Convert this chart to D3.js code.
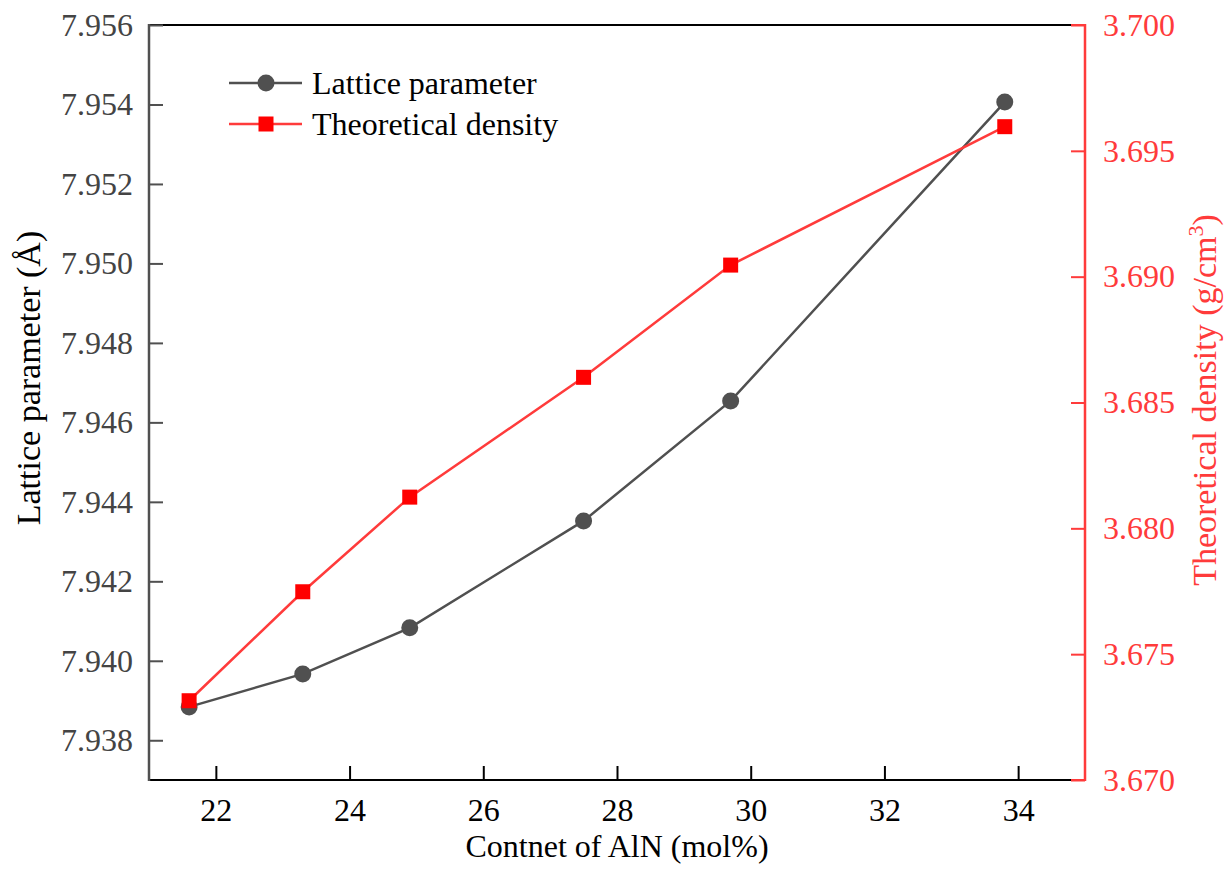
<!DOCTYPE html>
<html><head><meta charset="utf-8">
<script src="https://cdn.jsdelivr.net/npm/d3@7"></script>
<style>body{margin:0;background:#fff}svg{display:block}text{font-family:"Liberation Serif","Times New Roman",serif}</style>
</head><body><svg id="c" width="1228" height="877"></svg>
<script>
const aln = [21.6, 23.3, 24.9, 27.5, 29.7, 33.8];
const lattice = [7.93884, 7.93967, 7.94083, 7.94352, 7.94654, 7.95406];
const density = [3.67315, 3.67748, 3.68124, 3.68600, 3.69046, 3.69596];
const xTicks = [22, 24, 26, 28, 30, 32, 34];
const yLeftTicks = [7.938, 7.940, 7.942, 7.944, 7.946, 7.948, 7.950, 7.952, 7.954, 7.956];
const yRightTicks = [3.670, 3.675, 3.680, 3.685, 3.690, 3.695, 3.700];
const seriesNames = ["Lattice parameter", "Theoretical density"];

const L = 149, R = 1085, T = 25, B = 780;
const gray = "#505050", red = "#ff3b3b", redFill = "#ff0000";
const svg = d3.select("#c");
const x = d3.scaleLinear().domain([21, 35]).range([L, R]);
const yl = d3.scaleLinear().domain([7.937, 7.956]).range([B, T]);
const yr = d3.scaleLinear().domain([3.670, 3.700]).range([B, T]);

// top border
svg.append("line").attr("x1", L).attr("x2", R).attr("y1", T).attr("y2", T).attr("stroke", "#000").attr("stroke-width", 2);

// bottom axis
const gx = svg.append("g").attr("transform", `translate(0,${B})`);
gx.call(d3.axisBottom(x).tickValues(d3.range(21, 35.01, 1)).tickSize(-7).tickFormat(""));
gx.call(d3.axisBottom(x).tickValues(xTicks).tickSize(-14).tickFormat(d3.format("d")));
gx.selectAll(".domain").remove();
gx.selectAll("line").attr("stroke", "#000").attr("stroke-width", 2);
gx.selectAll("text").attr("font-size", 32).attr("fill", "#000").attr("y", 41).attr("dy", 0).attr("font-family", "Liberation Serif");
svg.append("line").attr("x1", L).attr("x2", R).attr("y1", B).attr("y2", B).attr("stroke", "#000").attr("stroke-width", 2);

// left axis
const gl = svg.append("g").attr("transform", `translate(${L},0)`);
gl.call(d3.axisLeft(yl).tickValues(d3.range(7.937, 7.9561, 0.001)).tickSize(-7).tickFormat(""));
gl.call(d3.axisLeft(yl).tickValues(yLeftTicks).tickSize(-14).tickPadding(16).tickFormat(d3.format(".3f")));
gl.selectAll(".domain").remove();
gl.selectAll("line").attr("stroke", gray).attr("stroke-width", 2);
gl.selectAll("text").attr("font-size", 32).attr("fill", "#444").attr("font-family", "Liberation Serif");
svg.append("line").attr("x1", L).attr("x2", L).attr("y1", T - 1).attr("y2", B + 1).attr("stroke", gray).attr("stroke-width", 2.5);

// right axis
const gr = svg.append("g").attr("transform", `translate(${R},0)`);
gr.call(d3.axisRight(yr).tickValues(d3.range(3.670, 3.7001, 0.0025)).tickSize(-7).tickFormat(""));
gr.call(d3.axisRight(yr).tickValues(yRightTicks).tickSize(-14).tickPadding(18).tickFormat(d3.format(".3f")));
gr.selectAll(".domain").remove();
gr.selectAll("line").attr("stroke", red).attr("stroke-width", 2);
gr.selectAll("text").attr("font-size", 32).attr("fill", red).attr("font-family", "Liberation Serif");
svg.append("line").attr("x1", R - 14).attr("x2", R).attr("y1", T).attr("y2", T).attr("stroke", red).attr("stroke-width", 2);
svg.append("line").attr("x1", R - 14).attr("x2", R).attr("y1", B).attr("y2", B).attr("stroke", red).attr("stroke-width", 2);
svg.append("line").attr("x1", R).attr("x2", R).attr("y1", T - 1).attr("y2", B + 1).attr("stroke", red).attr("stroke-width", 2.5);

// data
const d1 = aln.map((v, i) => [v, lattice[i]]);
const d2 = aln.map((v, i) => [v, density[i]]);
svg.append("path").datum(d1).attr("fill", "none").attr("stroke", gray).attr("stroke-width", 2.5)
  .attr("d", d3.line().x(d => x(d[0])).y(d => yl(d[1])));
svg.append("path").datum(d2).attr("fill", "none").attr("stroke", red).attr("stroke-width", 2.5)
  .attr("d", d3.line().x(d => x(d[0])).y(d => yr(d[1])));
svg.selectAll("circle.p").data(d1).enter().append("circle").attr("class", "p")
  .attr("cx", d => x(d[0])).attr("cy", d => yl(d[1])).attr("r", 8.5).attr("fill", gray);
svg.selectAll("rect.p").data(d2).enter().append("rect").attr("class", "p")
  .attr("x", d => x(d[0]) - 7.5).attr("y", d => yr(d[1]) - 7.5).attr("width", 15).attr("height", 15).attr("fill", redFill);

// legend
const lg = svg.append("g");
[0, 1].forEach(i => {
  const yy = 83 + i * 41;
  const col = i === 0 ? gray : red;
  lg.append("line").attr("x1", 229).attr("x2", 302).attr("y1", yy).attr("y2", yy).attr("stroke", col).attr("stroke-width", 2.5);
  if (i === 0) lg.append("circle").attr("cx", 266).attr("cy", yy).attr("r", 8.5).attr("fill", gray);
  else lg.append("rect").attr("x", 266 - 7.5).attr("y", yy - 7.5).attr("width", 15).attr("height", 15).attr("fill", redFill);
  lg.append("text").attr("x", 312).attr("y", yy + 11).attr("font-size", 32).attr("fill", "#000").text(seriesNames[i]);
});

// titles
svg.append("text").attr("x", 617).attr("y", 857).attr("text-anchor", "middle").attr("font-size", 32).attr("fill", "#000").text("Contnet of AlN (mol%)");
svg.append("text").attr("transform", "translate(40,378) rotate(-90)").attr("text-anchor", "middle").attr("font-size", 34).attr("fill", "#000").text("Lattice parameter (Å)");
const rt = svg.append("text").attr("transform", "translate(1216,400) rotate(-90)").attr("text-anchor", "middle").attr("font-size", 34).attr("fill", red);
rt.append("tspan").text("Theoretical density (g/cm");
rt.append("tspan").attr("dy", -13).attr("font-size", 22).text("3");
rt.append("tspan").attr("dy", 13).text(")");
</script></body></html>
